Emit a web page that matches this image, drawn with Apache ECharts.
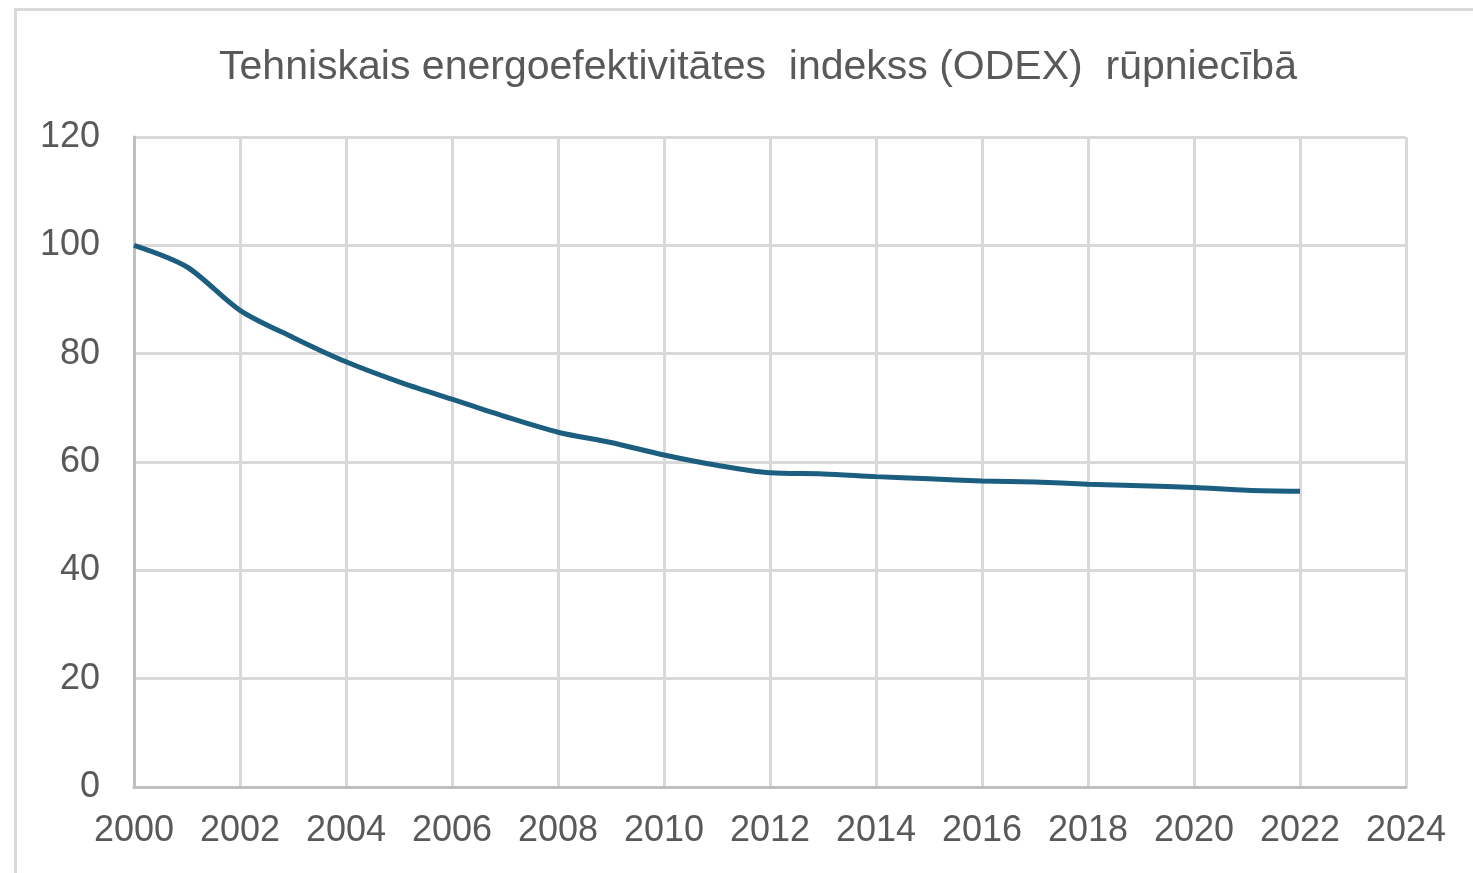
<!DOCTYPE html>
<html>
<head>
<meta charset="utf-8">
<script src="https://cdn.jsdelivr.net/npm/echarts@6/dist/echarts.min.js"></script>
<style>
html,body{margin:0;padding:0;background:#fff;overflow:hidden;}
#frame{position:absolute;left:14px;top:8px;width:1480px;height:880px;border:3px solid #d9d9d9;box-sizing:border-box;}
#chart{position:absolute;left:0;top:0;width:1473px;height:873px;}
</style>
</head>
<body>
<div id="frame"></div>
<div id="chart"></div>
<script>
const titleText = 'Tehniskais energoefektivitātes  indekss (ODEX)  rūpniecībā';
const years = [2000,2001,2002,2003,2004,2005,2006,2007,2008,2009,2010,2011,2012,2013,2014,2015,2016,2017,2018,2019,2020,2021,2022];
const odex = [100,96,88,83,78.5,74.8,71.6,68.4,65.5,63.6,61.3,59.4,58.0,57.8,57.3,56.9,56.5,56.3,55.9,55.6,55.3,54.8,54.6];
const yTicks = {min:0, max:120, interval:20};
const xTicks = {min:2000, max:2024, interval:2};

const chart = echarts.init(document.getElementById('chart'), null, {renderer:'canvas'});
const textColor = '#595959';
chart.setOption({
  animation:false,
  backgroundColor:'transparent',
  title:{
    text:titleText,
    left:753, top:42, textAlign:'center',
    textStyle:{fontFamily:'Liberation Sans', fontSize:41, fontWeight:'normal', color:textColor}
  },
  grid:{left:134, right:67, top:137, bottom:86, containLabel:false},
  xAxis:{
    type:'value', min:xTicks.min, max:xTicks.max, interval:xTicks.interval,
    axisLine:{show:true, lineStyle:{color:'#bfbfbf', width:3}},
    axisTick:{show:false},
    splitLine:{show:true, lineStyle:{color:'#d9d9d9', width:3}},
    axisLabel:{color:textColor, fontFamily:'Liberation Sans', fontSize:36, margin:26, formatter:v=>String(v)}
  },
  yAxis:{
    type:'value', min:yTicks.min, max:yTicks.max, interval:yTicks.interval,
    axisLine:{show:true, lineStyle:{color:'#bfbfbf', width:3}},
    axisTick:{show:false},
    splitLine:{show:true, lineStyle:{color:'#d9d9d9', width:3}},
    axisLabel:{color:textColor, fontFamily:'Liberation Sans', fontSize:36, margin:34}
  },
  series:[{
    type:'line',
    data: years.map((y,i)=>[y, odex[i]]),
    smooth:0.3,
    symbol:'none',
    lineStyle:{color:'#1b5e80', width:5}
  }]
});
</script>
</body>
</html>
